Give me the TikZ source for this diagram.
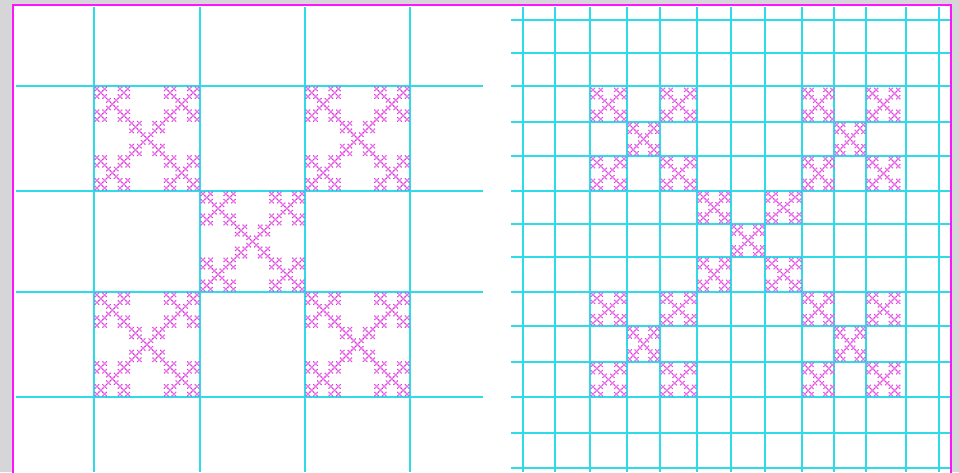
\documentclass[tikz,border=0pt]{standalone}
\definecolor{gridcyan}{RGB}{45,220,232}
\definecolor{fracpink}{RGB}{240,110,240}
\definecolor{fracdot}{RGB}{200,60,200}
\definecolor{bordermag}{RGB}{255,20,255}
\definecolor{marble}{RGB}{214,214,216}
\tikzset{
  gridline/.style={gridcyan, line width=2pt},
  fracline/.style={fracpink, line width=1.1pt},
  fracdots/.style={fill=fracdot},
  panelframe/.style={draw=bordermag, line width=2pt, fill=white}
}
\newcommand{\fracthree}[4]{%
 \foreach \ai/\aj in {0/0,2/0,1/1,0/2,2/2}{%
  \foreach \bi/\bj in {0/0,2/0,1/1,0/2,2/2}{%
   \foreach \ci/\cj in {0/0,2/0,1/1,0/2,2/2}{%
    \pgfmathsetmacro\px{#1+(#3)*(\ai/3+\bi/9+\ci/27)}%
    \pgfmathsetmacro\py{#2+(#4)*(\aj/3+\bj/9+\cj/27)}%
    \pgfmathsetmacro\dx{(#3)/27}\pgfmathsetmacro\dy{(#4)/27}%
    \draw[fracline] (\px,\py) -- ++(\dx,\dy) (\px,\py+\dy) -- ++(\dx,-\dy);
    \fill[fracdots] (\px,\py) circle[radius=0.6] (\px+\dx,\py) circle[radius=0.6]
      (\px,\py+\dy) circle[radius=0.6] (\px+\dx,\py+\dy) circle[radius=0.6];
   }}}}
\newcommand{\fractwo}[4]{%
 \foreach \ai/\aj in {0/0,2/0,1/1,0/2,2/2}{%
  \foreach \bi/\bj in {0/0,2/0,1/1,0/2,2/2}{%
    \pgfmathsetmacro\px{#1+(#3)*(\ai/3+\bi/9)}%
    \pgfmathsetmacro\py{#2+(#4)*(\aj/3+\bj/9)}%
    \pgfmathsetmacro\dx{(#3)/9}\pgfmathsetmacro\dy{(#4)/9}%
    \draw[fracline] (\px,\py) -- ++(\dx,\dy) (\px,\py+\dy) -- ++(\dx,-\dy);
    \fill[fracdots] (\px,\py) circle[radius=0.5] (\px+\dx,\py) circle[radius=0.5]
      (\px,\py+\dy) circle[radius=0.5] (\px+\dx,\py+\dy) circle[radius=0.5];
   }}}
\begin{document}
\begin{tikzpicture}[x=1pt,y=-1pt]
\useasboundingbox (0,0) rectangle (959,472);
\clip (0,0) rectangle (959,472);
\fill[marble] (0,0) rectangle (959,472);
\draw[panelframe] (13,5) rectangle (951,490);
% left panel grid
\foreach \x in {94,200,305,410}{\draw[gridline] (\x,7) -- (\x,472);}
\foreach \y in {86,191,292,397}{\draw[gridline] (16,\y) -- (483,\y);}
% right panel grid
\foreach \x in {523,555,590,627,660,697,731,765,802,834,866,906,939}{\draw[gridline] (\x,7) -- (\x,472);}
\foreach \y in {20,53,86,122,156,191,224,257,292,326,362,397,433,468}{\draw[gridline] (511,\y) -- (950,\y);}
% left panel fractals
\fracthree{95}{87}{104}{103}
\fracthree{306}{87}{103}{103}
\fracthree{201}{192}{103}{99}
\fracthree{95}{293}{104}{103}
\fracthree{306}{293}{103}{103}
% right panel fractals
\foreach \xa/\wa/\xb/\wb/\xc/\wc in {591/35/628/31/661/35, 803/31/835/30/867/33}{
  \foreach \ya/\ha/\yb/\hb/\yc/\hc in {88/33/123/32/157/33, 293/32/327/34/363/33}{
    \fractwo{\xa}{\ya}{\wa}{\ha}
    \fractwo{\xc}{\ya}{\wc}{\ha}
    \fractwo{\xb}{\yb}{\wb}{\hb}
    \fractwo{\xa}{\yc}{\wa}{\hc}
    \fractwo{\xc}{\yc}{\wc}{\hc}
  }}
\fractwo{698}{192}{32}{31}
\fractwo{766}{192}{35}{31}
\fractwo{732}{225}{32}{31}
\fractwo{698}{258}{32}{33}
\fractwo{766}{258}{35}{33}
\end{tikzpicture}
\end{document}
